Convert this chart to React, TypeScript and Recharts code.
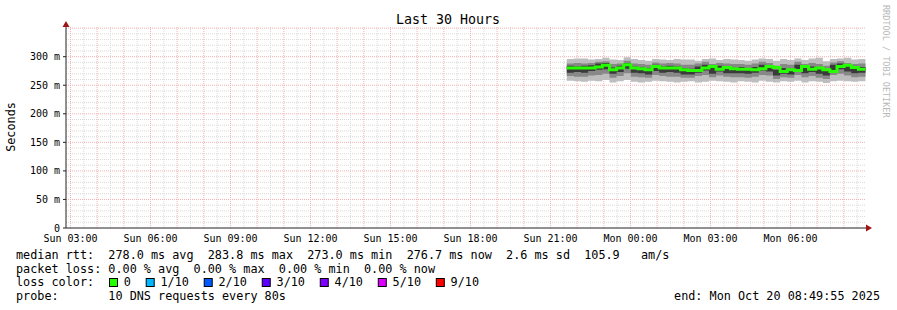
import React from "react";
import { ComposedChart, Area, Line, XAxis, YAxis, CartesianGrid } from "recharts";

const FONT = "'DejaVu Sans Mono', monospace";

// x is hours since graph start (Sun 02:49:55), 30 hour window
const xTickLabels = [
  "Sun 03:00", "Sun 06:00", "Sun 09:00", "Sun 12:00", "Sun 15:00",
  "Sun 18:00", "Sun 21:00", "Mon 00:00", "Mon 03:00", "Mon 06:00",
];
const firstFullHour = (10 * 60 + 5) / 3600;
const yTicks = [0, 50, 100, 150, 200, 250, 300];
const xMax = 30;
const yMax = 352;

// 16 minute steps, values in ms
const dataStart = 18.78;
const stepHours = 960 / 3600;
const median = [
  280, 280, 280, 280, 282, 285, 277, 280, 286, 280, 279, 277, 283, 280,
  280, 280, 277, 276, 276, 280, 283, 278, 281, 279, 278, 278, 277, 279,
  283, 281, 274, 277, 276, 283, 278, 280, 277, 274, 283, 285, 281, 278,
];
const outerHi = [
  296, 297, 297, 295, 296, 298, 295, 294, 299, 296, 294, 293, 296, 295,
  294, 296, 295, 295, 293, 296, 297, 294, 296, 295, 294, 293, 295, 297,
  296, 293, 296, 294, 297, 294, 297, 298, 292, 296, 297, 298, 295, 296,
];
const outerLo = [
  258, 257, 256, 258, 257, 259, 255, 257, 259, 256, 255, 256, 258, 257,
  256, 255, 256, 257, 255, 256, 258, 257, 256, 255, 257, 256, 255, 258,
  256, 255, 257, 256, 258, 255, 257, 256, 254, 257, 258, 257, 256, 257,
];
const midHi = [
  288, 289, 288, 289, 291, 292, 287, 288, 293, 288, 287, 286, 290, 288,
  289, 288, 286, 286, 288, 291, 287, 289, 288, 287, 287, 286, 288, 291,
  289, 284, 287, 286, 291, 287, 289, 287, 284, 290, 292, 289, 287, 288,
];
const midLo = [
  266, 265, 265, 267, 268, 270, 263, 266, 271, 265, 264, 263, 268, 266,
  265, 265, 263, 263, 266, 268, 264, 267, 265, 264, 264, 263, 265, 268,
  267, 261, 264, 263, 268, 264, 266, 263, 261, 268, 270, 267, 264, 265,
];
const innerHi = [
  284, 283, 284, 285, 288, 289, 281, 284, 289, 283, 282, 280, 286, 283,
  284, 283, 280, 279, 283, 286, 281, 284, 282, 281, 282, 280, 282, 286,
  284, 277, 280, 279, 286, 281, 283, 280, 277, 286, 288, 284, 281, 282,
];
const innerLo = [
  272, 273, 272, 275, 277, 278, 270, 273, 279, 272, 271, 269, 275, 272,
  273, 272, 269, 269, 272, 276, 270, 274, 271, 271, 271, 270, 272, 276,
  274, 267, 270, 269, 276, 271, 273, 270, 267, 276, 278, 274, 271, 272,
];

const lossLabels = ["0", "1/10", "2/10", "3/10", "4/10", "5/10", "9/10"];
const lossColors = ["#26ff00", "#00b8ff", "#0059ff", "#5e00ff", "#7e00ff", "#dd00ff", "#ff0000"];

const statsLine = "median rtt:  278.0 ms avg  283.8 ms max  273.0 ms min  276.7 ms now  2.6 ms sd  105.9   am/s";
const lossLine = "packet loss: 0.00 % avg  0.00 % max  0.00 % min  0.00 % now";
const probeLine = "probe:       10 DNS requests every 80s";
const endLine = "end: Mon Oct 20 08:49:55 2025";

// one extra row so the last step is drawn to its end
const rows = Array.from({ length: median.length + 1 }, (_, i) => {
  const j = Math.min(i, median.length - 1);
  return {
    t: dataStart + i * stepHours,
    median: median[j],
    outer: [outerLo[j], outerHi[j]],
    mid: [midLo[j], midHi[j]],
    inner: [innerLo[j], innerHi[j]],
  };
});

const xTicks = xTickLabels.map((_, i) => firstFullHour + 3 * i);
const hourLines: number[] = [];
const halfHourLines: number[] = [];
for (let h = firstFullHour; h < xMax; h += 1) {
  hourLines.push(h);
  if (h + 0.5 < xMax) halfHourLines.push(h + 0.5);
}
const minorY: number[] = [];
const majorY: number[] = [];
for (let v = 10; v <= yMax; v += 10) (v % 50 === 0 ? majorY : minorY).push(v);

const GRID = "#dadada";
const MGRID = "#f3b0b0";
const CW = 7.105; // legend char width

const xGen = (vals: number[]) => (p: any) => {
  const s = p?.xAxis?.scale;
  if (typeof s === "function") return vals.map((v) => s(v));
  return vals.map((v) => p.offset.left + (p.offset.width * v) / xMax);
};
const yGen = (vals: number[]) => (p: any) => {
  const s = p?.yAxis?.scale;
  if (typeof s === "function") return vals.map((v) => s(v));
  return vals.map((v) => p.offset.top + p.offset.height * (1 - v / yMax));
};

const pre = { whiteSpace: "pre" as const };

export default function App() {
  const boxes: { x: number; lx: number }[] = [];
  let bx = 109;
  lossLabels.forEach((l) => {
    boxes.push({ x: bx, lx: bx + 14.8 });
    bx = bx + 14.8 + l.length * CW + 14.8;
  });

  return (
    <div style={{ position: "absolute", left: 0, top: 0, width: 897, height: 310, background: "#fff" }}>
      <ComposedChart
        width={897}
        height={310}
        data={rows}
        margin={{ top: 27, right: 31, bottom: 62, left: 0 }}
      >
        <CartesianGrid
          stroke={GRID}
          strokeDasharray="1 1"
          verticalCoordinatesGenerator={xGen(halfHourLines)}
          horizontalCoordinatesGenerator={yGen(minorY)}
        />
        <CartesianGrid
          stroke={MGRID}
          strokeDasharray="1 1"
          verticalCoordinatesGenerator={xGen(hourLines)}
          horizontalCoordinatesGenerator={yGen(majorY)}
        />
        <XAxis
          type="number"
          dataKey="t"
          domain={[0, xMax]}
          ticks={xTicks}
          interval={0}
          tickFormatter={(_v, i) => xTickLabels[i]}
          tick={{ fontSize: 10, fontFamily: FONT, fill: "#000" }}
          tickLine={false}
          tickSize={4}
          tickMargin={3}
          height={20}
          axisLine={{ stroke: "#222" }}
        />
        <YAxis
          type="number"
          domain={[0, yMax]}
          ticks={yTicks}
          interval={0}
          width={66}
          tickFormatter={(v) => (v === 0 ? "0" : `${v} m`)}
          tick={{ fontSize: 10, fontFamily: FONT, fill: "#000" }}
          tickLine={{ stroke: "#222" }}
          tickSize={3}
          tickMargin={3}
          axisLine={{ stroke: "#222" }}
        />
        <Area type="stepAfter" dataKey="outer" stroke="none" fill="#bdbdbd" fillOpacity={1} isAnimationActive={false} />
        <Area type="stepAfter" dataKey="mid" stroke="none" fill="#888888" fillOpacity={1} isAnimationActive={false} />
        <Area type="stepAfter" dataKey="inner" stroke="none" fill="#3a3a3a" fillOpacity={1} isAnimationActive={false} />
        <Line type="stepAfter" dataKey="median" stroke="#26ff00" strokeWidth={3} dot={false} isAnimationActive={false} />
      </ComposedChart>

      <svg
        width={897}
        height={310}
        style={{ position: "absolute", left: 0, top: 0, pointerEvents: "none" }}
        fontFamily={FONT}
      >
        <polygon points="866,224.5 872,228 866,231.5" fill="#a01414" />
        <polygon points="62.5,27 66,21 69.5,27" fill="#a01414" />
        <text x={448} y={19} fontSize={13.3} textAnchor="middle" dominantBaseline="central">
          Last 30 Hours
        </text>
        <text
          x={11}
          y={127}
          fontSize={11.8}
          textAnchor="middle"
          dominantBaseline="central"
          transform="rotate(-90 11 127)"
        >
          Seconds
        </text>
        <text
          x={886}
          y={5}
          fontSize={8.5}
          fill="#b8b8b8"
          dominantBaseline="central"
          transform="rotate(90 886 5)"
        >
          RRDTOOL / TOBI OETIKER
        </text>
        <g fontSize={11.8} dominantBaseline="central">
          <text x={16} y={254.5} style={pre} xmlSpace="preserve">{statsLine}</text>
          <text x={16} y={268.5} style={pre} xmlSpace="preserve">{lossLine}</text>
          <text x={16} y={282.3}>loss color:</text>
          {boxes.map((b, i) => (
            <g key={lossLabels[i]}>
              <rect x={b.x + 0.5} y={278.5} width={8} height={8} fill={lossColors[i]} stroke="#000" />
              <text x={b.lx} y={282.3}>{lossLabels[i]}</text>
            </g>
          ))}
          <text x={16} y={296.2} style={pre} xmlSpace="preserve">{probeLine}</text>
          <text x={880} y={296.2} textAnchor="end">{endLine}</text>
        </g>
      </svg>
    </div>
  );
}
